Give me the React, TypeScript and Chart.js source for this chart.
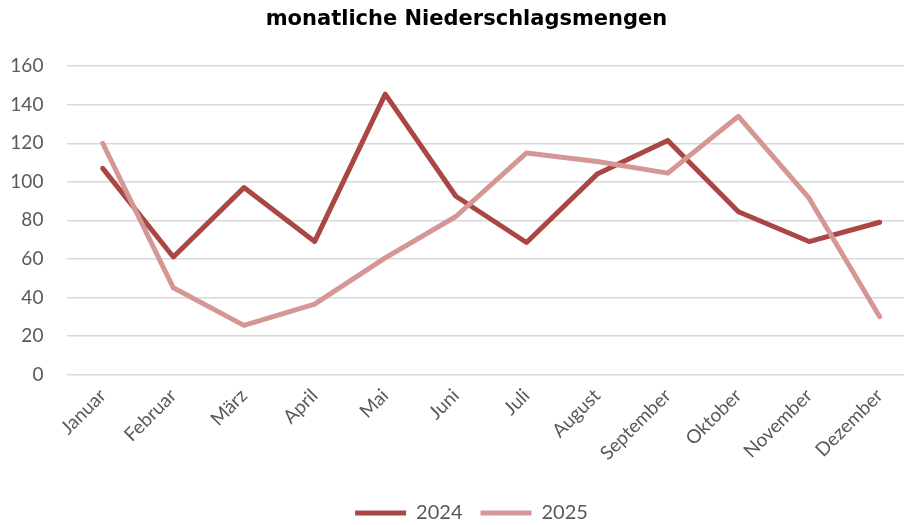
import React, { useEffect, useRef } from "react";
import { Chart, registerables } from "chart.js";

Chart.register(...registerables);

const months = ["Januar", "Februar", "März", "April", "Mai", "Juni", "Juli", "August", "September", "Oktober", "November", "Dezember"];
const values2024 = [107, 61, 97, 69, 145.5, 92.5, 68.5, 104, 121.5, 84.5, 69, 79];
const values2025 = [120, 45, 25.5, 36.5, 60.5, 82, 115, 110.5, 104.5, 134, 91.5, 30];
const yTicks = [0, 20, 40, 60, 80, 100, 120, 140, 160];

const blockShift = {
  id: "blockShift",
  afterLayout(chart: any) {
    const t = chart.titleBlock;
    if (t) {
      t.left += 9;
      t.right += 9;
    }
    const l = chart.legend;
    if (l) {
      l.left += 14;
      l.right += 14;
    }
  },
};

export default function App() {
  const ref = useRef<HTMLCanvasElement>(null);
  useEffect(() => {
    if (!ref.current) return;
    const chart = new Chart(ref.current, {
      type: "line",
      data: {
        labels: months,
        datasets: [
          {
            label: "2024",
            data: values2024,
            borderColor: "#AA4644",
            backgroundColor: "#AA4644",
            borderWidth: 5,
            borderCapStyle: "round",
            borderJoinStyle: "round",
            pointRadius: 0,
            tension: 0,
            order: 1,
          },
          {
            label: "2025",
            data: values2025,
            borderColor: "#D59696",
            backgroundColor: "#D59696",
            borderWidth: 5,
            borderCapStyle: "round",
            borderJoinStyle: "round",
            pointRadius: 0,
            tension: 0,
            order: 0,
          },
        ],
      },
      options: {
        responsive: false,
        animation: false,
        layout: { padding: { left: 0, right: 0, top: 0, bottom: -8 } },
        plugins: {
          title: {
            display: true,
            text: "monatliche Niederschlagsmengen",
            color: "#000000",
            font: { family: "DejaVu Sans", size: 21, weight: "bold" },
            padding: { top: 7, bottom: 34 },
          },
          legend: {
            position: "bottom",
            labels: {
              usePointStyle: true,
              pointStyle: "line",
              pointStyleWidth: 51,
              color: "#595959",
              font: { family: "Lato", size: 20 },
              padding: 18,
              sort: (a: any, b: any) => a.datasetIndex - b.datasetIndex,
            },
          },
          tooltip: { enabled: false },
        },
        scales: {
          x: {
            offset: true,
            grid: { display: false, drawTicks: false },
            border: { display: false },
            ticks: {
              color: "#595959",
              font: { family: "Lato", size: 19 },
              minRotation: 45,
              maxRotation: 45,
              padding: 10,
            },
            afterFit(scale: any) {
              scale.height = 110.5;
            },
          },
          y: {
            min: 0,
            max: 160,
            afterBuildTicks(scale: any) {
              scale.ticks = yTicks.map((v) => ({ value: v }));
            },
            grid: { color: "#D9D9D9", lineWidth: 1.5, drawTicks: false },
            border: { display: false },
            ticks: {
              color: "#595959",
              font: { family: "Lato", size: 19 },
              padding: 24,
            },
            afterFit(scale: any) {
              scale.width = 67.4;
            },
          },
        },
      },
      plugins: [blockShift],
    });
    return () => chart.destroy();
  }, []);
  return (
    <div style={{ position: "absolute", left: 0, top: 0, width: 904, height: 525, overflow: "hidden", background: "#fff" }}>
      <canvas ref={ref} width={915} height={525} style={{ display: "block", width: 915, height: 525 }} />
    </div>
  );
}
